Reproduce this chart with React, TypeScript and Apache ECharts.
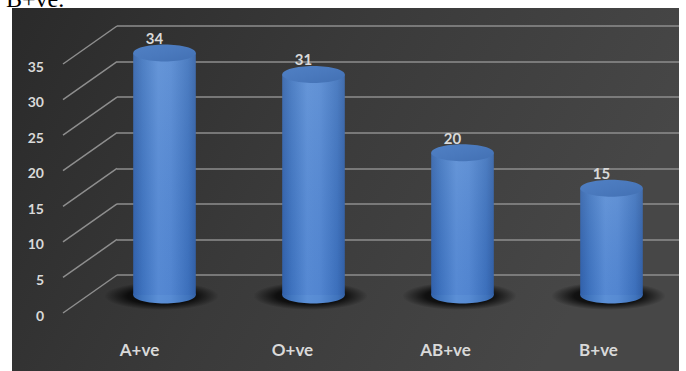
import React, { useEffect, useRef } from "react";
import * as echarts from "echarts";

const categories = ["A+ve", "O+ve", "AB+ve", "B+ve"];
const values = [34, 31, 20, 15];
const yTicks = [0, 5, 10, 15, 20, 25, 30, 35];
const headingText = "B+ve.";

export default function App() {
  const ref = useRef<HTMLDivElement>(null);

  useEffect(() => {
    document.body.style.margin = "0";
    const chart = echarts.init(ref.current!, null, { renderer: "svg" });
    const DX = 54;
    const DY = 38;
    const gridColor = "#8e8e8e";
    const labelColor = "#d9d9d9";
    const font = "Lato";

    const bodyGrad = () =>
      new echarts.graphic.LinearGradient(0, 0, 1, 0, [
        { offset: 0, color: "#3464ab" },
        { offset: 0.15, color: "#4277c0" },
        { offset: 0.4, color: "#5b8fd6" },
        { offset: 0.6, color: "#578bd3" },
        { offset: 0.88, color: "#4074bd" },
        { offset: 1, color: "#3462a6" },
      ]);
    const topGrad = () =>
      new echarts.graphic.LinearGradient(0, 0, 1, 1, [
        { offset: 0, color: "#5080c4" },
        { offset: 0.5, color: "#4a79bd" },
        { offset: 1, color: "#4270b3" },
      ]);
    const shadeGrad = () =>
      new echarts.graphic.LinearGradient(0, 0, 0, 1, [
        { offset: 0, color: "rgba(200,210,230,0.10)" },
        { offset: 1, color: "rgba(0,40,160,0.06)" },
      ]);
    const shadowGrad = () =>
      new echarts.graphic.RadialGradient(0.5, 0.5, 0.5, [
        { offset: 0, color: "rgba(0,0,0,0.95)" },
        { offset: 0.6, color: "rgba(0,0,0,0.75)" },
        { offset: 1, color: "rgba(0,0,0,0)" },
      ]);

    const renderWall = (params: any, api: any) => {
      const p = api.coord([0, api.value(1)]);
      return {
        type: "line",
        shape: { x1: p[0] - DX, y1: p[1] + DY, x2: p[0], y2: p[1] },
        style: { stroke: gridColor, lineWidth: 1.5 },
      };
    };

    const renderBar = (params: any, api: any) => {
      const idx = api.value(0);
      const val = api.value(1);
      const top = api.coord([idx, val]);
      const base = api.coord([idx, 0]);
      const w = api.size([1, 0])[0] * 0.42;
      const rx = w / 2;
      const ry = 8.5;
      const cx = top[0];
      return {
        type: "group",
        children: [
          {
            type: "ellipse",
            shape: { cx: cx - 3, cy: base[1] + 1, rx: rx + 26, ry: 14 },
            style: { fill: shadowGrad() },
          },
          {
            type: "rect",
            shape: { x: cx - rx, y: top[1], width: w, height: base[1] - top[1] },
            style: { fill: bodyGrad() },
          },
          {
            type: "ellipse",
            shape: { cx, cy: base[1], rx, ry },
            style: { fill: bodyGrad() },
          },
          {
            type: "rect",
            shape: { x: cx - rx, y: top[1], width: w, height: base[1] - top[1] },
            style: { fill: shadeGrad() },
          },
          {
            type: "ellipse",
            shape: { cx, cy: top[1], rx, ry },
            style: { fill: topGrad() },
          },
          {
            type: "text",
            style: {
              text: String(val),
              x: cx - 10,
              y: top[1] - 15,
              align: "center",
              verticalAlign: "middle",
              font: `bold 15px ${font}`,
              fill: labelColor,
            },
          },
        ],
      };
    };

    chart.setOption({
      animation: false,
      backgroundColor: "#ffffff",
      graphic: [
        {
          type: "rect",
          z: -10,
          shape: { x: 12, y: 8, width: 667, height: 363 },
          style: {
            fill: new echarts.graphic.LinearGradient(0, 0, 1, 0.3, [
              { offset: 0, color: "#2a2a2a" },
              { offset: 0.5, color: "#3a3a3a" },
              { offset: 1, color: "#474747" },
            ]),
          },
        },
        {
          type: "text",
          z: 10,
          style: {
            text: headingText,
            x: 6,
            y: -1,
            verticalAlign: "middle",
            font: "24px 'Liberation Serif'",
            fill: "#000000",
          },
        },
      ],
      grid: [
        { left: 117, top: 26, width: 562, height: 249 },
        { left: 90, top: 46, width: 612, height: 249 },
        { left: 63, top: 66, width: 612, height: 249 },
      ],
      xAxis: [
        { gridIndex: 0, type: "value", min: 0, max: 1, show: false },
        { gridIndex: 1, type: "category", data: categories, show: false },
        {
          gridIndex: 2,
          type: "category",
          data: categories,
          axisLine: { show: false },
          axisTick: { show: false },
          axisLabel: {
            color: labelColor,
            fontFamily: font,
            fontWeight: "bold",
            fontSize: 17,
            margin: 26,
          },
        },
      ],
      yAxis: [
        {
          gridIndex: 0,
          type: "value",
          min: 0,
          max: 35,
          interval: 5,
          axisLabel: { show: false },
          axisLine: { show: false },
          axisTick: { show: false },
          splitLine: { show: true, lineStyle: { color: gridColor, width: 1.5 } },
        },
        { gridIndex: 1, type: "value", min: 0, max: 35, interval: 5, show: false },
        {
          gridIndex: 2,
          type: "value",
          min: 0,
          max: 35,
          interval: 5,
          axisLine: { show: false },
          axisTick: { show: false },
          splitLine: { show: false },
          axisLabel: {
            color: labelColor,
            fontFamily: font,
            fontWeight: "bold",
            fontSize: 14,
            margin: 19,
          },
        },
      ],
      series: [
        {
          type: "custom",
          xAxisIndex: 0,
          yAxisIndex: 0,
          data: yTicks.map((v) => [0, v]),
          renderItem: renderWall,
          silent: true,
        },
        {
          type: "custom",
          xAxisIndex: 1,
          yAxisIndex: 1,
          data: values.map((v, i) => [i, v]),
          renderItem: renderBar,
          clip: false,
        },
      ],
    });

    return () => chart.dispose();
  }, []);

  return <div ref={ref} style={{ width: 686, height: 371 }} />;
}
